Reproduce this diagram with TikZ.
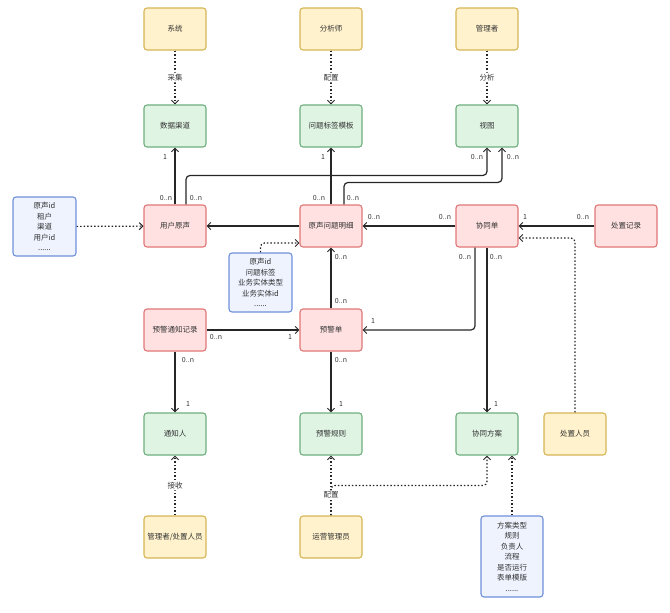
\documentclass[tikz,border=0pt]{standalone}
\usepackage{fontspec}
\setmainfont{Noto Sans CJK SC}
\usetikzlibrary{arrows.meta}
\definecolor{yfill}{HTML}{FFF2CC}
\definecolor{ydraw}{HTML}{D6B656}
\definecolor{gfill}{HTML}{DFF4E3}
\definecolor{gdraw}{HTML}{6FAE7E}
\definecolor{rfill}{HTML}{FFE1E1}
\definecolor{rdraw}{HTML}{E07676}
\definecolor{bfill}{HTML}{EEF3FE}
\definecolor{bdraw}{HTML}{6F90DC}
\definecolor{txt}{HTML}{333333}
\begin{document}
\begin{tikzpicture}[x=1pt,y=-1pt,
  box/.style={rounded corners=3pt,line width=1.1pt,minimum width=62pt,minimum height=42pt,inner sep=1pt,
     font=\fontsize{7.5}{10.5}\selectfont,text=txt,align=center},
  ybox/.style={box,fill=yfill,draw=ydraw},
  gbox/.style={box,fill=gfill,draw=gdraw},
  rbox/.style={box,fill=rfill,draw=rdraw},
  bbox/.style={box,fill=bfill,draw=bdraw,minimum width=63pt,minimum height=59pt},
  rel/.style={line width=1.2pt,draw=black!85,rounded corners=4pt,-{Straight Barb[length=3.5pt,width=7pt,line width=1pt]}},
  dep/.style={rel,dash pattern=on 1.5pt off 2pt},
  lab/.style={font=\fontsize{7}{8}\selectfont,text=txt,inner sep=1pt},
  elab/.style={font=\fontsize{7.5}{9}\selectfont,text=txt,fill=white,inner sep=1.5pt}
]
\useasboundingbox (0,0) rectangle (670,613);

% nodes
\node[ybox] (sys) at (175,29) {系统};
\node[ybox] (ana) at (331,29) {分析师};
\node[ybox] (mgr) at (487,29) {管理者};
\node[gbox] (ch) at (175,126) {数据渠道};
\node[gbox] (tpl) at (331,126) {问题标签模板};
\node[gbox] (view) at (487,126) {视图};
\node[rbox] (uv) at (175,226) {用户原声};
\node[rbox] (det) at (331,226) {原声问题明细};
\node[rbox] (coop) at (487,226) {协同单};
\node[rbox] (rec) at (626,226) {处置记录};
\node[bbox] (info1) at (44.5,226.5) {原声id\\租户\\渠道\\用户id\\......};
\node[bbox] (info2) at (260.5,282.5) {原声id\\问题标签\\业务实体类型\\业务实体id\\......};
\node[rbox] (warnrec) at (175,330) {预警通知记录};
\node[rbox] (warn) at (331,330) {预警单};
\node[gbox] (notif) at (175,434) {通知人};
\node[gbox] (rule) at (331,434) {预警规则};
\node[gbox] (plan) at (487,434) {协同方案};
\node[ybox] (handler) at (575,434) {处置人员};
\node[ybox] (recv) at (175,537) {管理者/处置人员};
\node[ybox] (ops) at (331,537) {运营管理员};
\node[bbox,minimum width=62pt,minimum height=81pt] (info3) at (512,556.5) {方案类型\\规则\\负责人\\流程\\是否运行\\表单模版\\......};

% dotted top relations
\draw[dep] (sys) -- node[elab] {采集} (ch);
\draw[dep] (ana) -- node[elab] {配置} (tpl);
\draw[dep] (mgr) -- node[elab] {分析} (view);

% solid relations
\draw[rel] (uv) -- (ch);
\draw[rel] ([xshift=11pt]uv.north) -- ++(0,-29) -| (view.south);
\draw[rel] (det) -- (tpl);
\draw[rel] ([xshift=13pt]det.north) -- ++(0,-22) -| ([xshift=15pt]view.south);
\draw[rel] (det) -- (uv);
\draw[rel] (coop) -- (det);
\draw[rel] (rec) -- (coop);
\draw[rel] ([xshift=-12pt]coop.south) |- (warn.east);
\draw[rel] (coop) -- (plan);
\draw[rel] (warn) -- (det);
\draw[rel] (warn) -- (rule);
\draw[rel] (warnrec) -- (warn);
\draw[rel] (warnrec) -- (notif);

% dotted relations
\draw[dep] (info1) -- (uv);
\draw[dep] (info2.north) |- ([yshift=-17pt]det.west);
\draw[dep] (handler.north) |- ([yshift=-12pt]coop.east);
\draw[dep] (recv) -- node[elab] {接收} (notif);
\draw[dep] (ops.north) -- ++(0,-30) -| (plan.south);
\draw[dep] (ops) -- node[elab,pos=0.34] {配置} (rule);
\draw[dep] (info3.north) -- ([xshift=25pt]plan.south);

% multiplicity labels
\node[lab] (l1) at (165,157) {1};
\node[lab] (l2) at (166,198) {0..n};
\node[lab] (l3) at (196,198) {0..n};
\node[lab] (l4) at (477,157) {0..n};
\node[lab] (l5) at (513,157) {0..n};
\node[lab] (l6) at (323,157) {1};
\node[lab] (l7) at (319,198) {0..n};
\node[lab] (l8) at (353,198) {0..n};
\node[lab] (l9) at (374,217) {0..n};
\node[lab] (l10) at (445,217) {0..n};
\node[lab] (l11) at (525,217) {1};
\node[lab] (l12) at (583,217) {0..n};
\node[lab] (l13) at (465,257) {0..n};
\node[lab] (l14) at (496,257) {0..n};
\node[lab] (l15) at (341,257) {0..n};
\node[lab] (l16) at (341,301) {0..n};
\node[lab] (l17) at (373,321) {1};
\node[lab] (l18) at (341,360) {0..n};
\node[lab] (l19) at (341,404) {1};
\node[lab] (l20) at (216,337) {0..n};
\node[lab] (l21) at (290,337) {1};
\node[lab] (l22) at (188,360) {0..n};
\node[lab] (l23) at (188,404) {1};
\node[lab] (l24) at (496,404) {1};
\end{tikzpicture}
\end{document}
